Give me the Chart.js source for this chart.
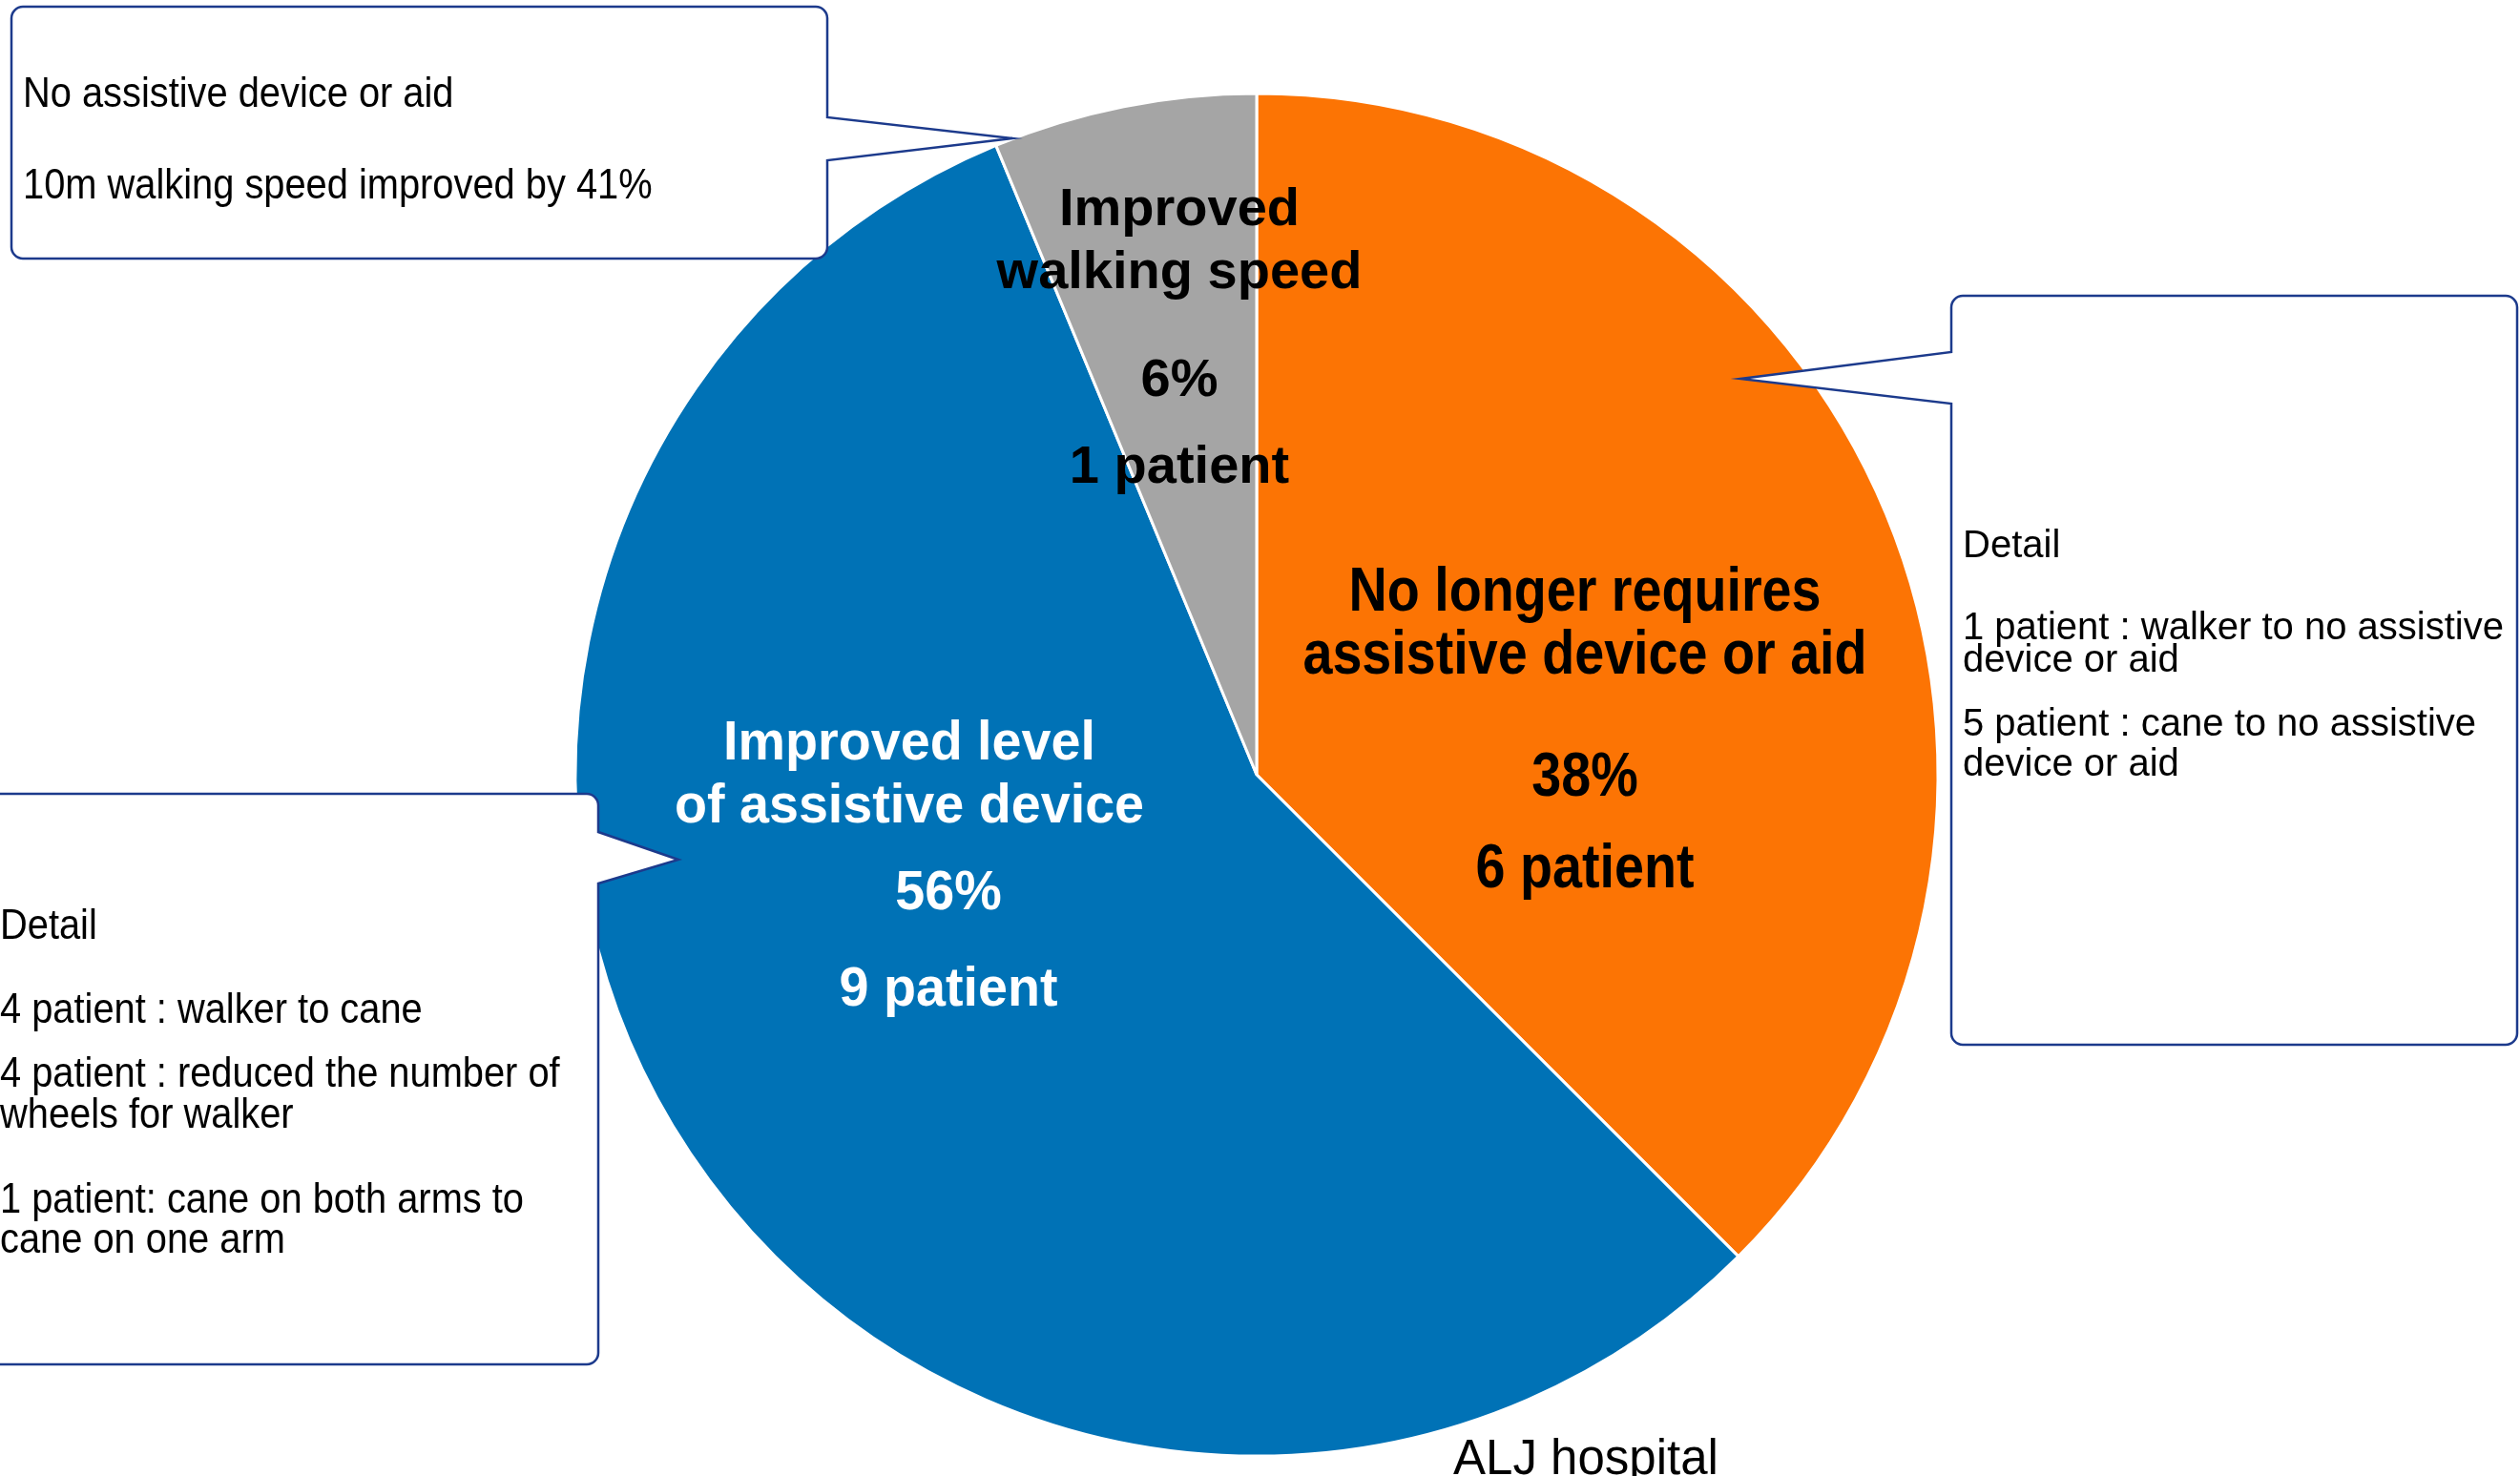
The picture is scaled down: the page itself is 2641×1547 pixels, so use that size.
<!DOCTYPE html>
<html lang="en">
<head>
<meta charset="UTF-8">
<title>ALJ hospital - assistive device outcomes</title>
<script src="https://cdn.jsdelivr.net/npm/chart.js"></script>
<style>
  html, body { margin: 0; padding: 0; background: #fff; overflow: hidden; }
  #chart { display: block; }
</style>
</head>
<body>
<canvas id="chart" width="2641" height="1547"></canvas>
<script>
// slices go clockwise from 12 o'clock
const categories = ['No longer requires assistive device or aid', 'Improved level of assistive device', 'Improved walking speed'];
const patients = [6, 9, 1];
const percentLabels = ['38%', '56%', '6%'];
const patientLabels = ['6 patient', '9 patient', '1 patient'];
const sliceTitles = [
    ['No longer requires', 'assistive device or aid'],
    ['Improved level', 'of assistive device'],
    ['Improved', 'walking speed']
];
const sliceColors = ['rgb(252,116,4)', 'rgb(0,114,182)', 'rgb(165,165,165)'];

// callout texts
const walkingNote = ['No assistive device or aid', '10m walking speed improved by 41%'];
const noDeviceDetail = ['Detail', '1 patient : walker to no assistive', 'device or aid', '5 patient : cane to no assistive', 'device or aid'];
const improvedDetail = ['Detail', '4 patient : walker to cane', '4 patient : reduced the number of', 'wheels for walker', '1 patient: cane on both arms to', 'cane on one arm'];
const footer = 'ALJ hospital';

const FONT = '"Liberation Sans", Arial, Helvetica, sans-serif';
const NAVY = 'rgb(28,58,140)';

function drawText(ctx, str, x, y, o) {
    ctx.save();
    ctx.font = (o.weight || 'normal') + ' ' + o.size + 'px ' + FONT;
    ctx.fillStyle = o.color || '#000';
    ctx.textBaseline = o.baseline || 'middle';
    ctx.textAlign = o.align || 'left';
    ctx.translate(x, y);
    ctx.scale(o.sx || 1, 1);
    ctx.fillText(str, 0, 0);
    ctx.restore();
}

// rounded box with a wedge pointer on its left or right side
function callout(ctx, b) {
    const {x, y, w, h, r, side, p1, p2, tip} = b;
    ctx.save();
    ctx.beginPath();
    ctx.moveTo(x + r, y);
    ctx.lineTo(x + w - r, y);
    ctx.arcTo(x + w, y, x + w, y + r, r);
    if (side === 'right') {
        ctx.lineTo(x + w, p1);
        ctx.lineTo(tip[0], tip[1]);
        ctx.lineTo(x + w, p2);
    }
    ctx.lineTo(x + w, y + h - r);
    ctx.arcTo(x + w, y + h, x + w - r, y + h, r);
    ctx.lineTo(x + r, y + h);
    ctx.arcTo(x, y + h, x, y + h - r, r);
    if (side === 'left') {
        ctx.lineTo(x, p2);
        ctx.lineTo(tip[0], tip[1]);
        ctx.lineTo(x, p1);
    }
    ctx.lineTo(x, y + r);
    ctx.arcTo(x, y, x + r, y, r);
    ctx.closePath();
    ctx.fillStyle = '#fff';
    ctx.fill();
    ctx.lineWidth = 2.5;
    ctx.strokeStyle = NAVY;
    ctx.stroke();
    ctx.restore();
}

const annotations = {
    id: 'annotations',
    afterDatasetsDraw(chart) {
        const ctx = chart.ctx;
        const first = chart.getDatasetMeta(0).data[0];
        const cx = first.x, cy = first.y;

        // slice labels, offsets from the pie centre
        const spots = [
            {tx: 344, ty: [-190, -124], px: 344, py: [4, 100], size: 64, sx: 0.87, color: '#000'},
            {tx: -364, ty: [-32, 34], px: -323, py: [125, 226], size: 58, sx: 0.96, color: '#fff'},
            {tx: -81, ty: [-591, -525], px: -81, py: [-412, -321], size: 56, sx: 1, color: '#000'}
        ];
        spots.forEach((s, i) => {
            const o = {size: s.size, sx: s.sx, color: s.color, weight: 'bold', align: 'center'};
            sliceTitles[i].forEach((line, k) => drawText(ctx, line, cx + s.tx, cy + s.ty[k], o));
            drawText(ctx, percentLabels[i], cx + s.px, cy + s.py[0], o);
            drawText(ctx, patientLabels[i], cx + s.px, cy + s.py[1], o);
        });

        // callout boxes
        callout(ctx, {x: 12, y: 7, w: 855, h: 264, r: 12, side: 'right', p1: 123, p2: 168, tip: [1061, 145]});
        callout(ctx, {x: 2045, y: 310, w: 593, h: 785, r: 12, side: 'left', p1: 369, p2: 423, tip: [1824, 397]});
        callout(ctx, {x: -20, y: 832, w: 647, h: 598, r: 12, side: 'right', p1: 872, p2: 926, tip: [711, 901]});

        const narrow = {size: 44, sx: 0.905};
        [100, 196].forEach((y, k) => drawText(ctx, walkingNote[k], 24, y, narrow));
        [573, 659, 693, 760, 802].forEach((y, k) => drawText(ctx, noDeviceDetail[k], 2057, y, {size: 40}));
        [972, 1060, 1127, 1170, 1259, 1301].forEach((y, k) => drawText(ctx, improvedDetail[k], 0, y, narrow));

        drawText(ctx, footer, 1523, 1545, {size: 51, baseline: 'alphabetic'});
    }
};

new Chart(document.getElementById('chart'), {
    type: 'pie',
    data: {
        labels: categories,
        datasets: [{
            data: patients,
            backgroundColor: sliceColors,
            borderColor: '#fff',
            borderWidth: 3,
            hoverOffset: 0
        }]
    },
    options: {
        responsive: false,
        devicePixelRatio: 1,
        animation: false,
        events: [],
        radius: 714,
        layout: {padding: {left: 597, right: 604, top: 92, bottom: 15}},
        plugins: {
            legend: {display: false},
            tooltip: {enabled: false}
        }
    },
    plugins: [annotations]
});
</script>
</body>
</html>
